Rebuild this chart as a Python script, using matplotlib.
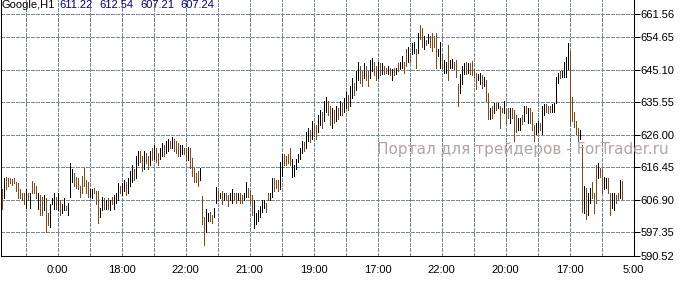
import matplotlib
matplotlib.use("Agg")
import matplotlib.pyplot as plt
import numpy as np

# ---- data (Google, H1) ----
highs = [
    610.2, 613.2, 613.5, 613.2, 613.2, 612.9, 613.2, 612.0, 611.7, 610.2,
    609.0, 608.8, 610.2, 609.0, 609.0, 612.3, 611.7, 611.1, 609.0, 608.2,
    607.6, 608.2, 607.3, 602.9, 605.8, 607.3, 608.8, 607.6, 609.0, 606.7,
    605.8, 607.3, 605.2, 606.1, 617.6, 616.1, 614.9, 613.5, 613.2, 611.1,
    614.0, 616.4, 612.6, 612.0, 610.2, 610.2, 610.5, 609.6, 609.6, 604.6,
    607.6, 607.3, 606.7, 607.3, 606.7, 607.6, 608.2, 608.8, 611.7, 611.1,
    611.7, 612.6, 612.0, 613.2, 615.5, 617.0, 616.1, 619.9, 621.4, 621.4,
    619.9, 621.4, 620.8, 619.9, 621.4, 622.0, 622.9, 622.0, 620.8, 622.0,
    623.5, 622.9, 624.3, 624.9, 624.3, 625.5, 624.9, 624.3, 623.5, 622.9,
    622.9, 622.0, 622.0, 622.3, 622.0, 619.3, 616.4, 614.9, 615.5, 616.4,
    607.9, 601.7, 604.3, 602.9, 603.2, 602.3, 604.6, 610.8, 609.6, 609.0,
    609.6, 609.0, 609.0, 608.2, 608.8, 610.2, 609.0, 608.8, 609.0, 608.8,
    608.2, 608.8, 612.0, 610.5, 609.6, 608.2, 606.7, 602.9, 603.8, 605.2,
    606.7, 606.7, 606.1, 609.0, 609.0, 613.2, 613.2, 612.6, 612.6, 617.9,
    620.5, 620.5, 619.9, 620.5, 622.0, 619.0, 617.0, 619.0, 620.5, 622.0,
    624.3, 623.8, 626.7, 627.9, 627.3, 630.2, 629.6, 628.8, 631.7, 633.2,
    632.6, 636.1, 637.0, 636.1, 634.6, 633.8, 633.2, 634.6, 633.8, 636.1,
    635.5, 636.7, 638.5, 637.6, 640.5, 642.6, 641.4, 644.9, 647.3, 646.4,
    644.9, 647.0, 646.4, 644.9, 647.9, 648.5, 647.3, 646.4, 647.3, 647.0,
    647.0, 646.4, 645.8, 646.4, 645.8, 645.5, 645.8, 645.8, 647.0, 647.3,
    649.3, 647.3, 651.4, 651.7, 650.2, 652.9, 653.2, 651.4, 656.1, 658.2,
    657.3, 655.2, 653.8, 655.8, 655.2, 656.1, 655.2, 656.1, 651.4, 653.2,
    649.9, 647.9, 647.3, 652.3, 647.9, 648.2, 647.3, 647.9, 641.1, 644.0,
    646.4, 647.0, 647.3, 647.0, 647.0, 647.6, 645.5, 644.3, 644.0, 644.3,
    643.5, 642.9, 642.0, 638.2, 634.0, 634.6, 635.5, 635.5, 635.5, 634.6,
    634.0, 636.1, 633.8, 633.8, 634.0, 633.8, 633.2, 631.7, 631.1, 631.1,
    631.7, 634.6, 634.6, 634.0, 633.8, 632.6, 628.8, 629.6, 630.2, 629.6,
    634.6, 635.2, 635.2, 634.6, 634.6, 635.2, 635.5, 642.9, 644.3, 644.9,
    644.9, 647.3, 648.8, 652.9, 650.8, 637.0, 632.6, 630.2, 627.9, 627.3,
    622.9, 611.1, 610.5, 608.8, 610.5, 612.0, 609.0, 617.0, 617.6, 616.4,
    616.1, 613.5, 613.2, 613.2, 609.0, 609.0, 608.8, 608.2, 608.8, 612.6,
    612.54,
]
lows = [
    604.3, 607.3, 610.2, 611.1, 611.7, 611.4, 611.7, 609.6, 607.3, 607.3,
    606.7, 605.8, 604.6, 606.7, 604.6, 608.8, 608.8, 607.3, 604.3, 602.3,
    602.3, 603.8, 597.3, 599.4, 598.8, 605.8, 604.3, 604.3, 603.8, 602.3,
    602.9, 603.8, 603.8, 602.3, 607.6, 612.0, 611.1, 610.5, 610.2, 607.6,
    609.0, 611.1, 609.0, 607.6, 607.6, 607.3, 608.8, 605.8, 600.2, 601.7,
    603.8, 604.3, 604.3, 604.3, 603.8, 605.8, 604.3, 606.1, 606.7, 609.0,
    608.2, 609.6, 608.2, 609.0, 611.1, 612.0, 612.6, 613.2, 617.0, 617.9,
    615.5, 616.1, 617.6, 616.1, 617.0, 618.5, 619.0, 617.9, 617.0, 619.0,
    619.9, 619.9, 620.8, 621.4, 622.0, 622.0, 621.4, 620.8, 619.9, 619.9,
    620.5, 620.5, 618.5, 618.5, 616.4, 614.0, 612.0, 612.0, 611.1, 612.6,
    599.9, 593.5, 597.3, 600.8, 600.8, 600.2, 601.7, 606.1, 606.7, 607.3,
    605.8, 606.7, 606.7, 605.2, 606.7, 606.1, 606.7, 606.1, 606.7, 606.1,
    606.1, 606.7, 607.6, 607.6, 606.1, 602.3, 598.5, 599.9, 600.8, 601.7,
    603.2, 604.6, 603.2, 606.7, 606.7, 607.6, 609.6, 610.5, 609.6, 610.2,
    614.0, 617.0, 617.0, 617.6, 617.0, 613.5, 614.0, 616.1, 617.9, 619.0,
    620.8, 621.4, 622.0, 624.3, 623.8, 624.9, 625.8, 624.9, 626.7, 628.8,
    627.9, 630.2, 632.6, 631.7, 628.8, 627.9, 629.6, 630.2, 630.8, 631.7,
    631.7, 632.6, 633.8, 633.2, 634.6, 636.7, 637.6, 639.1, 642.0, 641.4,
    640.5, 642.6, 642.0, 640.5, 642.6, 644.9, 643.5, 642.0, 642.6, 643.5,
    644.0, 644.0, 644.3, 644.0, 643.5, 642.0, 643.5, 644.0, 644.9, 645.5,
    645.8, 644.3, 646.4, 647.3, 647.3, 649.9, 650.2, 645.8, 650.2, 654.3,
    651.7, 651.4, 652.3, 652.9, 651.7, 650.8, 651.7, 645.8, 649.3, 645.8,
    645.8, 644.3, 644.3, 642.0, 645.8, 645.8, 645.5, 642.9, 634.6, 638.2,
    641.1, 644.0, 644.0, 644.3, 644.0, 643.5, 642.9, 639.6, 642.0, 641.1,
    639.9, 640.5, 636.1, 630.8, 630.8, 631.1, 632.3, 633.2, 633.8, 627.9,
    632.6, 632.3, 629.6, 631.1, 629.6, 631.1, 624.3, 626.7, 627.3, 627.3,
    629.3, 630.2, 632.3, 629.6, 629.6, 627.3, 624.3, 626.4, 626.7, 627.3,
    626.4, 631.7, 632.6, 632.3, 632.6, 632.6, 632.6, 635.5, 641.4, 642.6,
    642.9, 642.9, 642.9, 645.5, 628.8, 630.2, 628.2, 626.4, 624.3, 624.9,
    603.2, 602.9, 601.4, 602.3, 606.1, 607.3, 602.9, 606.1, 613.2, 613.5,
    609.0, 610.2, 610.5, 608.8, 602.3, 604.6, 603.8, 606.1, 606.7, 607.3,
    607.21,
]
# u = bullish bar (close > open), d = bearish bar; groups of 10 bars
direction_groups = [
    "du dddddddd", "dd ud ud dd ud", "du dd uuu du d", "uu d uuu dddd",
    "dddd uu ddd u", "ud ud ud uuu d", "uu d uuu d uu d", "du dd ud ud du",
    "ud uu d u ddd u", "udd u ddddd u", "dd uu dd uu d u", "du dd uu dd ud",
    "duu ddd uuuu", "uu dd uu ddd u", "u dddd uuuuu", "ud uu d u dd uu",
    "duu dd ud ud u", "duu d uu d uu d", "du dd uu dd ud", "udd ud ud ud u",
    "udd ud uu du d", "dudu dddd uu", "duu d uu ddd u", "uu d u dddd uu",
    "du dd u d u d u d", "du dd u ddd uu", "du du ddd uu d", "uu ddd uuuu d",
    "uuuu ddddd u", "du d uu ddd u d", "d uu dd uu dd u d",
]
direction = "".join(direction_groups).replace(" ", "")

title_name = "Google,H1"
title_ohlc = ["611.22", "612.54", "607.21", "607.24"]
price_ticks = [661.56, 654.65, 645.10, 635.55, 626.00, 616.45, 606.90, 597.35]
price_bottom = 590.52
time_labels = ["0:00", "18:00", "22:00", "21:00", "19:00", "17:00",
               "22:00", "20:00", "17:00", "5:00"]
watermark = "Портал для трейдеров - ForTrader.ru"

# ---- figure ----
W, H = 693, 281
fig = plt.figure(figsize=(W / 100, H / 100), dpi=100)
ax = fig.add_axes([0.5 / W, (H - 255.5) / H, 633 / W, 255.5 / H])

n = len(highs)
idx = np.arange(n)
dirs = (direction + "d" * n)[:n]
up_col, dn_col = "#000000", "#8B4513"
cols = [up_col if c == "u" else dn_col for c in dirs]
ax.vlines(idx, lows, highs, colors=cols, linewidth=0.72, antialiased=False, zorder=3)

ax.set_xlim(-0.5, 316)
ax.set_ylim(price_bottom, price_bottom + 255.5 / 3.4)

grid_col = "#778899"
for gx in np.arange(12, 316, 16):
    ax.axvline(gx, color=grid_col, lw=0.72, ls=(0, (3, 2)), antialiased=False, zorder=1)
for gy in price_ticks:
    ax.axhline(gy, color=grid_col, lw=0.72, ls=(0, (3, 2)), antialiased=False, zorder=1)

ax.yaxis.tick_right()
ax.set_yticks(price_ticks + [price_bottom])
ax.set_yticklabels([f"{v:.2f}" for v in price_ticks + [price_bottom]])
ax.set_xticks([28 + 32 * k for k in range(len(time_labels))])
ax.set_xticklabels(time_labels)
ax.tick_params(axis="y", direction="out", length=4, width=0.75, pad=1,
               labelsize=8, colors="black")
ax.tick_params(axis="x", length=0, pad=7, labelsize=8)
for lab in ax.get_xticklabels() + ax.get_yticklabels():
    lab.set_fontfamily("Liberation Sans")

for s in ["left", "right", "bottom"]:
    ax.spines[s].set_color("black")
    ax.spines[s].set_linewidth(0.75)
ax.spines["top"].set_visible(False)

# title
fig.text(2 / W, 1 - 0.5 / H, title_name, ha="left", va="top", fontsize=8,
         family="Liberation Sans", color="black")
for k, t in enumerate(title_ohlc):
    fig.text((59 + 40.5 * k) / W, 1 - 0.5 / H, t, ha="left", va="top",
             fontsize=8, family="Liberation Sans", color="#000080")

# watermark
fig.text(377 / W, 1 - 150 / H, watermark, ha="left", va="center",
         fontsize=11, family="DejaVu Sans", color="#B4A4A4", zorder=0)

fig.savefig("out.png", dpi=100)
